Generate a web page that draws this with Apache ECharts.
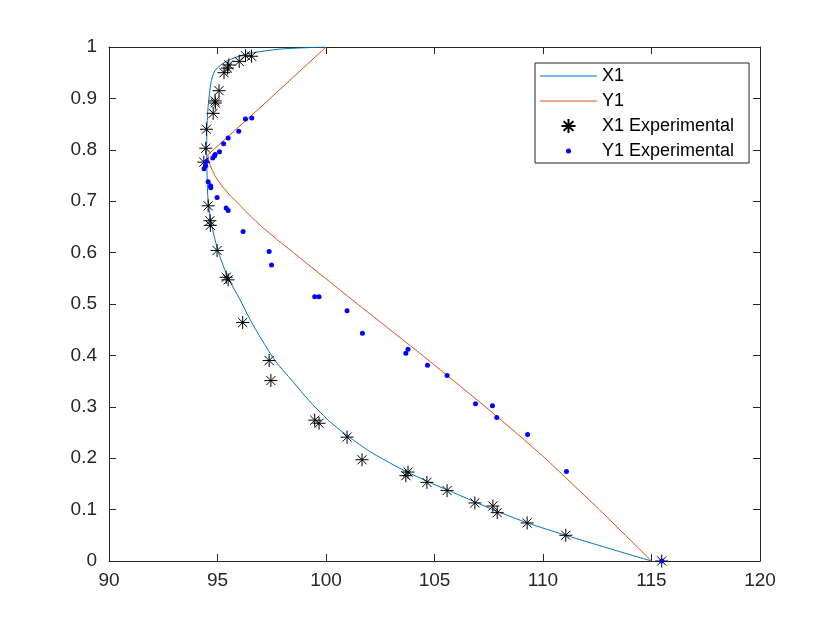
<!DOCTYPE html>
<html>
<head>
<meta charset="utf-8">
<script src="https://cdn.jsdelivr.net/npm/echarts@6/dist/echarts.min.js"></script>
<style>html,body{margin:0;padding:0;background:#fff}#c{width:840px;height:630px}</style>
</head>
<body>
<div id="c"></div>
<script>
// X1 model curve (liquid)
const x1CurveX = [115.0, 113.0, 111.05, 109.29, 107.87, 106.86, 105.6, 104.72, 103.65, 102.98, 101.95, 100.85, 100.1, 99.2, 98.45, 97.65, 97.05, 96.5, 96.02, 95.5, 95.05, 94.75, 94.57, 94.52, 94.5, 94.52, 94.56, 94.63, 94.72, 94.9, 95.4, 96.3, 97.9, 100.0];
const x1CurveY = [0, 0.025, 0.050, 0.074, 0.097, 0.115, 0.138, 0.154, 0.175, 0.190, 0.215, 0.248, 0.274, 0.313, 0.350, 0.390, 0.430, 0.470, 0.510, 0.550, 0.600, 0.650, 0.700, 0.750, 0.800, 0.850, 0.880, 0.910, 0.935, 0.955, 0.972, 0.986, 0.996, 1.0];
// Y1 model curve (vapour)
const y1CurveX = [115.0, 113.8, 112.6, 111.35, 110.1, 108.75, 107.35, 105.9, 104.45, 102.95, 101.45, 99.97, 98.5, 97.76, 97.05, 96.42, 95.85, 95.6, 95.4, 95.2, 95.03, 94.88, 94.76, 94.66, 94.59, 94.55, 97.3, 100.0];
const y1CurveY = [0, 0.05, 0.1, 0.15, 0.2, 0.25, 0.3, 0.35, 0.4, 0.45, 0.5, 0.55, 0.6, 0.625, 0.65, 0.675, 0.70, 0.71, 0.72, 0.73, 0.74, 0.75, 0.76, 0.77, 0.78, 0.79, 0.895, 1.0];
// X1 experimental
const x1ExpX = [115.47, 111.05, 109.27, 107.89, 107.69, 106.86, 105.58, 104.65, 103.78, 103.68, 101.66, 100.97, 99.68, 99.48, 97.46, 97.38, 96.16, 95.49, 95.40, 94.98, 94.67, 94.65, 94.57, 94.37, 94.46, 94.49, 94.80, 94.90, 94.89, 95.07, 95.30, 95.46, 95.52, 96.00, 96.29, 96.57];
const x1ExpY = [0, 0.050, 0.074, 0.094, 0.107, 0.113, 0.137, 0.153, 0.173, 0.166, 0.197, 0.241, 0.268, 0.274, 0.351, 0.390, 0.464, 0.547, 0.552, 0.604, 0.653, 0.662, 0.691, 0.776, 0.803, 0.840, 0.871, 0.891, 0.895, 0.915, 0.950, 0.959, 0.965, 0.972, 0.983, 0.982];
// Y1 experimental
const y1ExpX = [115.47, 111.08, 109.29, 107.87, 107.67, 106.89, 105.58, 104.68, 103.78, 103.68, 101.68, 100.97, 99.68, 99.48, 97.49, 97.38, 96.18, 95.49, 95.40, 94.98, 94.69, 94.68, 94.57, 94.38, 94.45, 94.49, 94.78, 94.86, 94.89, 95.09, 95.28, 95.49, 95.98, 96.29, 96.58];
const y1ExpY = [0, 0.174, 0.246, 0.279, 0.302, 0.306, 0.361, 0.381, 0.412, 0.404, 0.443, 0.487, 0.514, 0.514, 0.576, 0.602, 0.641, 0.682, 0.687, 0.707, 0.726, 0.730, 0.738, 0.763, 0.769, 0.777, 0.784, 0.788, 0.791, 0.796, 0.812, 0.823, 0.836, 0.860, 0.862];
const seriesNames = ['X1', 'Y1', 'X1 Experimental', 'Y1 Experimental'];

const zip = (a, b) => a.map((v, i) => [v, b[i]]);
const axisCol = '#262626';
const FONT = 'Liberation Sans, Arial, sans-serif';
const starPath = 'path://M6,0L6,12M0,6L12,6M1.8,1.8L10.2,10.2M1.8,10.2L10.2,1.8';
const lineIcon = 'path://M0,0L57,0L57,1L0,1Z';

function xAx(pos, labels) {
  return {
    type: 'value', position: pos, min: 90, max: 120, interval: 5,
    axisLine: { show: true, onZero: false, lineStyle: { color: axisCol, width: 1 } },
    axisTick: { show: true, inside: true, length: 7, lineStyle: { color: axisCol } },
    axisLabel: { show: labels, color: axisCol, fontSize: 19, fontFamily: FONT, margin: 10 },
    splitLine: { show: false }
  };
}
function yAx(pos, labels) {
  return {
    type: 'value', position: pos, min: 0, max: 1, interval: 0.1,
    axisLine: { show: true, onZero: false, lineStyle: { color: axisCol, width: 1 } },
    axisTick: { show: true, inside: true, length: 7, lineStyle: { color: axisCol } },
    axisLabel: { show: labels, color: axisCol, fontSize: 19, fontFamily: FONT, margin: 12 },
    splitLine: { show: false }
  };
}

const chart = echarts.init(document.getElementById('c'), null, { renderer: 'canvas' });
chart.setOption({
  backgroundColor: '#fff',
  animation: false,
  grid: { left: 109, right: 80, top: 47, bottom: 69, show: false },
  xAxis: [xAx('bottom', true), xAx('top', false)],
  yAxis: [yAx('left', true), yAx('right', false)],
  legend: {
    orient: 'vertical', left: 535, top: 63,
    backgroundColor: '#fff', borderColor: axisCol, borderWidth: 1,
    padding: [4, 15, 3, 5],
    itemWidth: 57, itemHeight: 14, itemGap: 7,
    textStyle: { color: '#000', fontSize: 18, fontFamily: FONT, lineHeight: 18 },
    data: [
      { name: seriesNames[0], icon: lineIcon },
      { name: seriesNames[1], icon: lineIcon },
      { name: seriesNames[2] },
      { name: seriesNames[3], icon: 'path://M0,0M14,14M4.5,7a2.5,2.5 0 1,0 5,0a2.5,2.5 0 1,0 -5,0' }
    ]
  },
  series: [
    {
      name: seriesNames[0], type: 'line', data: zip(x1CurveX, x1CurveY), smooth: 0.25,
      symbol: 'none', lineStyle: { color: '#0072BD', width: 1 }, itemStyle: { color: '#0072BD' }, z: 2
    },
    {
      name: seriesNames[1], type: 'line', data: zip(y1CurveX, y1CurveY), smooth: false,
      symbol: 'none', lineStyle: { color: '#D95319', width: 1 }, itemStyle: { color: '#D95319' }, z: 2
    },
    {
      name: seriesNames[2], type: 'scatter', data: zip(x1ExpX, x1ExpY),
      symbol: starPath, symbolSize: 13,
      itemStyle: { color: '#000', borderColor: '#000', borderWidth: 1, opacity: 1 }, z: 3
    },
    {
      name: seriesNames[3], type: 'scatter', data: zip(y1ExpX, y1ExpY),
      symbol: 'circle', symbolSize: 5,
      itemStyle: { color: '#0000ff', opacity: 1 }, z: 4
    }
  ]
});
</script>
</body>
</html>
